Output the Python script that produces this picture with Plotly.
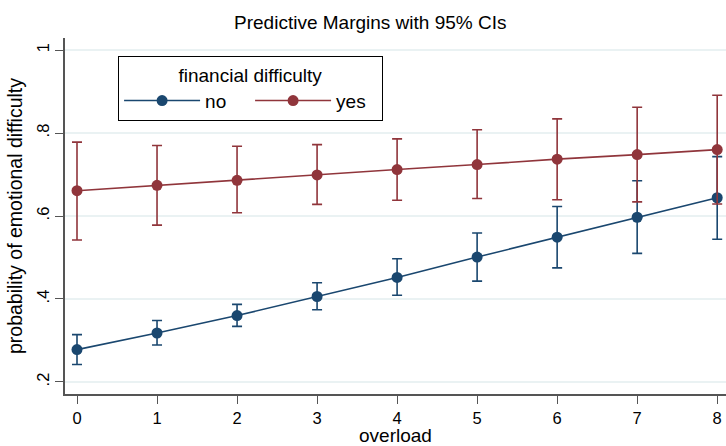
import plotly.graph_objects as go

overload = [0, 1, 2, 3, 4, 5, 6, 7, 8]

no_margin = [0.278, 0.318, 0.360, 0.406, 0.452, 0.501, 0.549, 0.597, 0.644]
no_upper = [0.314, 0.348, 0.387, 0.439, 0.497, 0.559, 0.623, 0.685, 0.743]
no_lower = [0.242, 0.289, 0.334, 0.374, 0.409, 0.443, 0.475, 0.510, 0.544]

yes_margin = [0.661, 0.674, 0.686, 0.699, 0.712, 0.724, 0.737, 0.748, 0.760]
yes_upper = [0.778, 0.770, 0.768, 0.772, 0.786, 0.808, 0.834, 0.862, 0.891]
yes_lower = [0.542, 0.578, 0.608, 0.628, 0.638, 0.642, 0.639, 0.634, 0.629]

y_tickvals = [0.2, 0.4, 0.6, 0.8, 1.0]
y_ticktext = [".2", ".4", ".6", ".8", "1"]

BLUE = "#1a476f"
RED = "#90353b"
FONT = "Liberation Sans, Arial, sans-serif"


def trace(name, y, up, lo, color):
    return go.Scatter(
        x=overload, y=y, name=name, mode="lines+markers",
        line=dict(color=color, width=1.6),
        marker=dict(color=color, size=11),
        error_y=dict(type="data", symmetric=False,
                     array=[u - v for u, v in zip(up, y)],
                     arrayminus=[v - l for v, l in zip(y, lo)],
                     color=color, thickness=1.6, width=5),
    )


fig = go.Figure()
fig.add_trace(trace("no", no_margin, no_upper, no_lower, BLUE))
fig.add_trace(trace("yes", yes_margin, yes_upper, yes_lower, RED))

fig.update_layout(
    width=726, height=446,
    margin=dict(l=65, r=0, t=38, b=52),
    paper_bgcolor="white", plot_bgcolor="white",
    font=dict(family=FONT, size=16, color="black"),
    title=dict(text="Predictive Margins with 95% CIs", x=0.51, xanchor="center",
               y=0.95, yanchor="middle", font=dict(size=19)),
    legend=dict(
        title=dict(text="financial difficulty", side="top center", font=dict(size=19)),
        orientation="h", x=0.08, y=0.95, xanchor="left", yanchor="top",
        bordercolor="black", borderwidth=1.2, bgcolor="white",
        itemwidth=76, entrywidth=40, entrywidthmode="pixels",
        font=dict(size=19),
    ),
    showlegend=True,
)
fig.update_xaxes(
    range=[-0.15, 8.11], tickvals=overload, ticks="outside", ticklen=8,
    tickcolor="#555555", showline=True, linecolor="#555555", linewidth=1.5,
    showgrid=False, zeroline=False,
    title=dict(text="overload", standoff=4, font=dict(size=19)),
    tickfont=dict(size=16.5),
)
fig.update_yaxes(
    range=[0.171, 1.029], tickvals=y_tickvals, ticktext=y_ticktext, tickangle=-90,
    ticks="outside", ticklen=8, tickcolor="#555555", showline=True,
    linecolor="#555555", linewidth=1.5, showgrid=True, gridcolor="#eaf2f3",
    gridwidth=1.5, zeroline=False,
    title=dict(text="probability of emotional difficulty", standoff=6, font=dict(size=19.5)),
    tickfont=dict(size=16.5),
)

fig.write_html("out.html")
